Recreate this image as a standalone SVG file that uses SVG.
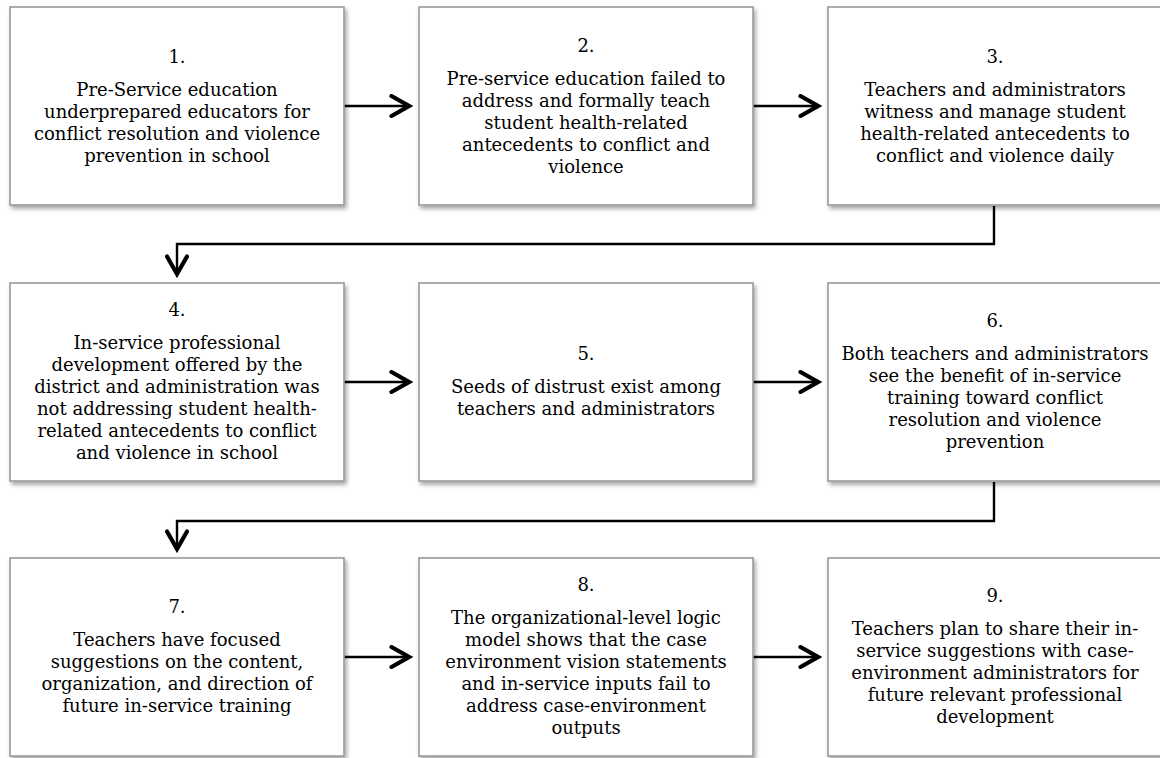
<svg xmlns="http://www.w3.org/2000/svg" width="1160" height="758" viewBox="0 0 1160 758">
<defs>
<filter id="sh" x="-5%" y="-5%" width="115%" height="115%">
<feDropShadow dx="2" dy="3" stdDeviation="2" flood-color="#000" flood-opacity="0.35"/>
</filter>
<marker id="chev" viewBox="0 0 24 24" refX="20" refY="12" markerWidth="24" markerHeight="24" markerUnits="userSpaceOnUse" orient="auto">
<polyline points="2.5,2 20,12 2.5,22" fill="none" stroke="#000" stroke-width="4.2" stroke-linecap="round" stroke-linejoin="miter"/>
</marker>
<style>
.box{fill:#fff;stroke:#9a9a9a;stroke-width:1.6;filter:url(#sh);}
.t{font-family:"DejaVu Serif","Liberation Serif",serif;font-size:18px;fill:#000;text-anchor:middle;}
.c{fill:none;stroke:#000;stroke-width:2.4;}
</style>
</defs>
<g id="connectors">
<path class="c" d="M344,106 H409" marker-end="url(#chev)"/>
<path class="c" d="M753,106 H818" marker-end="url(#chev)"/>
<path class="c" d="M994,206 V244 H177 V274" marker-end="url(#chev)"/>
<path class="c" d="M344,382 H409" marker-end="url(#chev)"/>
<path class="c" d="M753,382 H818" marker-end="url(#chev)"/>
<path class="c" d="M994,482 V521 H177 V549" marker-end="url(#chev)"/>
<path class="c" d="M344,657 H409" marker-end="url(#chev)"/>
<path class="c" d="M753,657 H818" marker-end="url(#chev)"/>
</g>
<g id="n1">
<rect class="box" x="10" y="7" width="334" height="198"/>
<text class="t" x="177" y="63">1.</text>
<text class="t" x="177" y="96">Pre-Service education</text>
<text class="t" x="177" y="118">underprepared educators for</text>
<text class="t" x="177" y="140">conflict resolution and violence</text>
<text class="t" x="177" y="162">prevention in school</text>
</g>
<g id="n2">
<rect class="box" x="419" y="7" width="334" height="198"/>
<text class="t" x="586" y="52">2.</text>
<text class="t" x="586" y="85">Pre-service education failed to</text>
<text class="t" x="586" y="107">address and formally teach</text>
<text class="t" x="586" y="129">student health-related</text>
<text class="t" x="586" y="151">antecedents to conflict and</text>
<text class="t" x="586" y="173">violence</text>
</g>
<g id="n3">
<rect class="box" x="828" y="7" width="334" height="198"/>
<text class="t" x="995" y="63">3.</text>
<text class="t" x="995" y="96">Teachers and administrators</text>
<text class="t" x="995" y="118">witness and manage student</text>
<text class="t" x="995" y="140">health-related antecedents to</text>
<text class="t" x="995" y="162">conflict and violence daily</text>
</g>
<g id="n4">
<rect class="box" x="10" y="283" width="334" height="198"/>
<text class="t" x="177" y="316">4.</text>
<text class="t" x="177" y="349">In-service professional</text>
<text class="t" x="177" y="371">development offered by the</text>
<text class="t" x="177" y="393">district and administration was</text>
<text class="t" x="177" y="415">not addressing student health-</text>
<text class="t" x="177" y="437">related antecedents to conflict</text>
<text class="t" x="177" y="459">and violence in school</text>
</g>
<g id="n5">
<rect class="box" x="419" y="283" width="334" height="198"/>
<text class="t" x="586" y="360">5.</text>
<text class="t" x="586" y="393">Seeds of distrust exist among</text>
<text class="t" x="586" y="415">teachers and administrators</text>
</g>
<g id="n6">
<rect class="box" x="828" y="283" width="334" height="198"/>
<text class="t" x="995" y="327">6.</text>
<text class="t" x="995" y="360">Both teachers and administrators</text>
<text class="t" x="995" y="382">see the benefit of in-service</text>
<text class="t" x="995" y="404">training toward conflict</text>
<text class="t" x="995" y="426">resolution and violence</text>
<text class="t" x="995" y="448">prevention</text>
</g>
<g id="n7">
<rect class="box" x="10" y="558" width="334" height="198"/>
<text class="t" x="177" y="613">7.</text>
<text class="t" x="177" y="646">Teachers have focused</text>
<text class="t" x="177" y="668">suggestions on the content,</text>
<text class="t" x="177" y="690">organization, and direction of</text>
<text class="t" x="177" y="712">future in-service training</text>
</g>
<g id="n8">
<rect class="box" x="419" y="558" width="334" height="198"/>
<text class="t" x="586" y="591">8.</text>
<text class="t" x="586" y="624">The organizational-level logic</text>
<text class="t" x="586" y="646">model shows that the case</text>
<text class="t" x="586" y="668">environment vision statements</text>
<text class="t" x="586" y="690">and in-service inputs fail to</text>
<text class="t" x="586" y="712">address case-environment</text>
<text class="t" x="586" y="734">outputs</text>
</g>
<g id="n9">
<rect class="box" x="828" y="558" width="334" height="198"/>
<text class="t" x="995" y="602">9.</text>
<text class="t" x="995" y="635">Teachers plan to share their in-</text>
<text class="t" x="995" y="657">service suggestions with case-</text>
<text class="t" x="995" y="679">environment administrators for</text>
<text class="t" x="995" y="701">future relevant professional</text>
<text class="t" x="995" y="723">development</text>
</g>
</svg>
